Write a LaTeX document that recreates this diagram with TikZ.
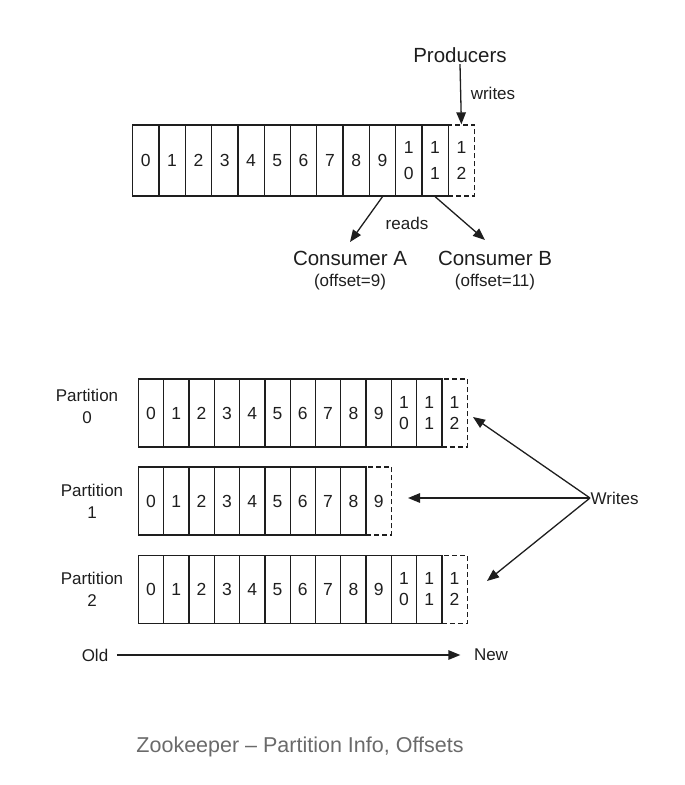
\documentclass[tikz,border=0pt]{standalone}
\usepackage{fontspec}
\setmainfont{Liberation Sans}
\usetikzlibrary{arrows.meta,calc}
\definecolor{ink}{HTML}{1E1E1E}
\definecolor{capgray}{HTML}{6A6A6A}
\begin{document}
\begin{tikzpicture}[x=1pt,y=-1pt,line width=1.3pt,draw=ink,text=ink,
  cellfix/.style={execute at begin node={\vphantom{0568}},execute at end node={\vphantom{0568}}},
  topcell/.style={draw,cellfix,inner sep=0pt,anchor=west,align=center,minimum width=26.3pt,minimum height=71pt,font=\fontsize{17.5}{26}\selectfont},
  botcell/.style={draw,cellfix,inner sep=0pt,anchor=west,align=center,minimum width=25.3pt,minimum height=68pt,font=\fontsize{17.5}{21}\selectfont},
  newcell/.style={dash pattern=on 5pt off 3pt},
  lbl/.style={inner sep=1pt,font=\fontsize{17}{22}\selectfont,align=center},
  big/.style={inner sep=1pt,font=\fontsize{20.5}{24}\selectfont},
  arr/.style={-{Triangle[length=12pt,width=9.5pt]},line width=1.3pt}]
\useasboundingbox (0,0) rectangle (685,785);

% ---------- top log ----------
\node[topcell,newcell] (t12) at (132+12*26.3,160.5) {1\\2};
\foreach \i/\lab in {0/0,1/1,2/2,3/3,4/4,5/5,6/6,7/7,8/8,9/9,10/{1\\0},11/{1\\1}}
  \node[topcell] (t\i) at (132+\i*26.3,160.5) {\lab};

\node[big] (prod) at (460,55) {Producers};
\draw[arr] (prod.south) -- (t12.north);
\node[lbl] (wr) at (493,93) {writes};

\node[big] (cA) at (350,258) {Consumer A};
\node[lbl] (cAo) at (350,282) {(offset=9)};
\node[big] (cB) at (495,258) {Consumer B};
\node[lbl] (cBo) at (495,282) {(offset=11)};
\coordinate (cAtip) at (350,242);
\coordinate (cBtip) at (485,240);
\draw[arr] (t9.south) -- (cAtip);
\draw[arr] (t11.south) -- (cBtip);
\node[lbl] (rd) at (407,223) {reads};

% ---------- partitions ----------
\node[botcell,newcell] (p0c12) at (137.7+12*25.3,413) {1\\2};
\foreach \i/\lab in {0/0,1/1,2/2,3/3,4/4,5/5,6/6,7/7,8/8,9/9,10/{1\\0},11/{1\\1}}
  \node[botcell] (p0c\i) at (137.7+\i*25.3,413) {\lab};

\node[botcell,newcell] (p1c9) at (137.7+9*25.3,501) {9};
\foreach \i in {0,...,8}
  \node[botcell] (p1c\i) at (137.7+\i*25.3,501) {\i};

\node[botcell,newcell] (p2c12) at (137.7+12*25.3,589.5) {1\\2};
\foreach \i/\lab in {0/0,1/1,2/2,3/3,4/4,5/5,6/6,7/7,8/8,9/9,10/{1\\0},11/{1\\1}}
  \node[botcell] (p2c\i) at (137.7+\i*25.3,589.5) {\lab};

\node[lbl] (pl0) at (87,406) {Partition\\0};
\node[lbl] (pl1) at (92,501) {Partition\\1};
\node[lbl] (pl2) at (92,589) {Partition\\2};

\node[lbl,anchor=west,inner sep=0pt] (wrs) at (590,498) {Writes};
\coordinate (w0) at (473,417);
\coordinate (w1) at (408,498);
\coordinate (w2) at (487,581);
\draw[arr] (wrs.west) -- (w0);
\draw[arr] (wrs.west) -- (w1);
\draw[arr] (wrs.west) -- (w2);

\node[lbl] (old) at (95,655) {Old};
\node[lbl] (new) at (491,655) {New};
\draw[arr,shorten <=7pt,shorten >=12pt] (old.east) -- (new.west);

% ---------- caption ----------
\node[inner sep=0pt,font=\fontsize{21.5}{26}\selectfont,text=capgray] (cap) at (300,747) {Zookeeper – Partition Info, Offsets};
\end{tikzpicture}
\end{document}
